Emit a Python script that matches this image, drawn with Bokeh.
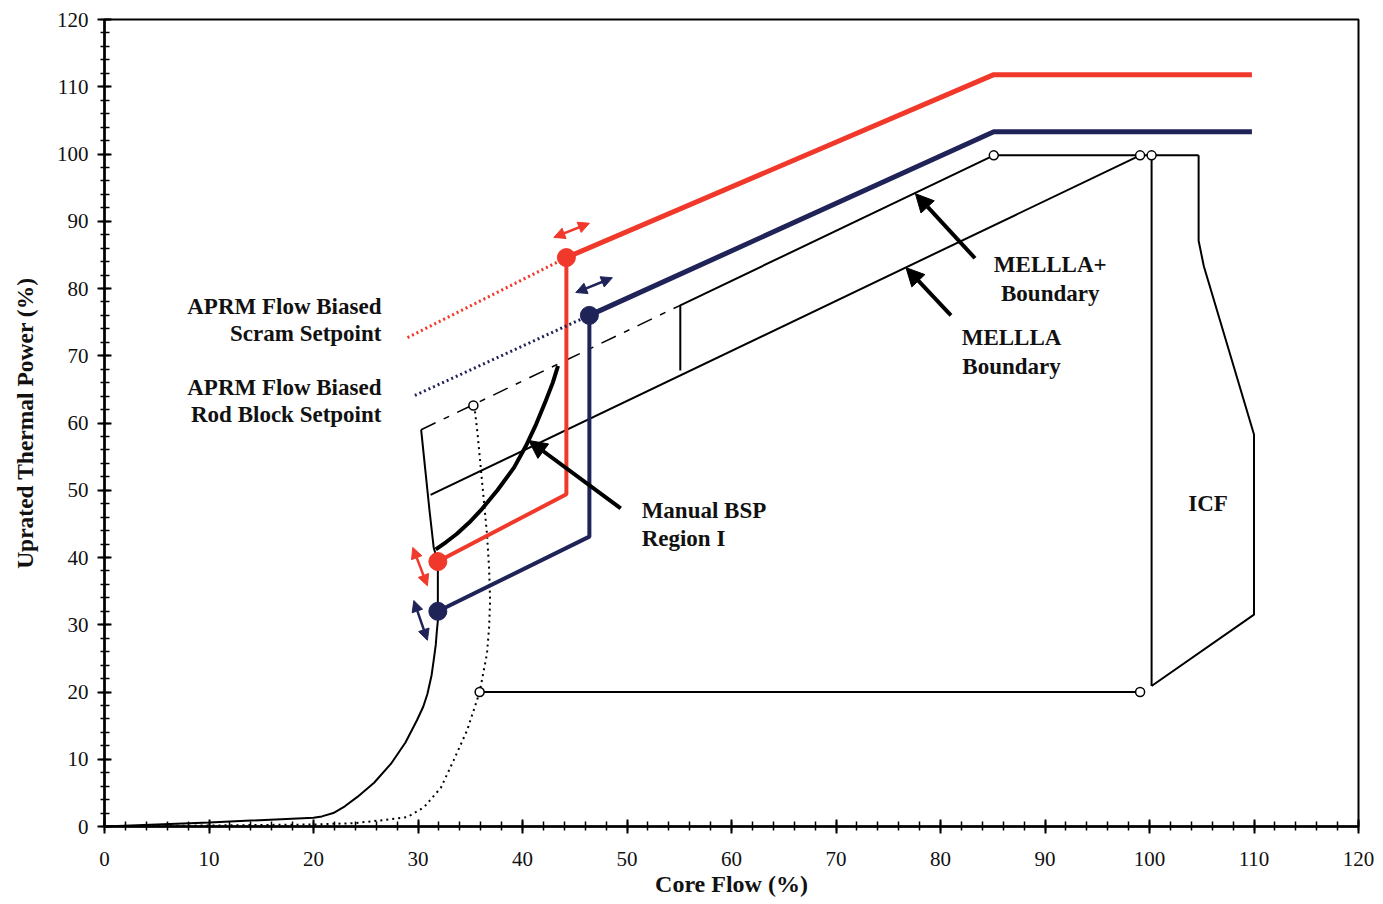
from bokeh.plotting import figure
from bokeh.models import Range1d, SingleIntervalTicker, Arrow, NormalHead, Label
from bokeh.embed import file_html
from bokeh.resources import INLINE

# ---------------- data ----------------
# APRM flow biased scram setpoint (red)
scram_x = [44.2, 85.1, 109.8]
scram_y = [84.6, 111.8, 111.8]
scram_dot_x = [29.0, 44.2]
scram_dot_y = [72.7, 84.6]
scram_low_x = [31.9, 44.2, 44.2]
scram_low_y = [39.4, 49.4, 84.6]
scram_pts_x = [44.2, 31.9]
scram_pts_y = [84.6, 39.4]

# APRM flow biased rod block setpoint (navy)
rb_x = [46.4, 85.1, 109.8]
rb_y = [76.0, 103.3, 103.3]
rb_dot_x = [29.7, 46.4]
rb_dot_y = [64.1, 76.0]
rb_low_x = [31.9, 46.4, 46.4]
rb_low_y = [32.0, 43.1, 76.0]
rb_pts_x = [46.4, 31.9]
rb_pts_y = [76.0, 32.0]

# Natural circulation line (solid thin)
nc_x = [0, 10, 20.0, 20.8, 21.9, 23.0, 24.2, 25.8, 27.4, 28.8, 29.9, 30.5, 30.9, 31.3, 31.5,
        31.7, 31.8, 31.9, 31.9, 31.5, 31.1, 30.7, 30.3]
nc_y = [0, 0.6, 1.3, 1.5, 2.0, 3.0, 4.4, 6.5, 9.3, 12.5, 15.8, 17.8, 19.7, 22.5, 24.7,
        27.0, 29.0, 30.6, 39.4, 41.5, 47.0, 53.0, 59.0]

# Minimum pump speed line (dotted thin)
mps_x = [0, 20.0, 23.9, 26.4, 29.0, 30.6, 32.2, 33.4, 34.7, 35.9, 36.6, 36.8, 36.9,
         36.8, 36.6, 36.3, 36.0, 35.7, 35.4]
mps_y = [0, 0.3, 0.5, 0.9, 1.4, 2.9, 5.8, 9.8, 14.3, 20.0, 25.7, 29.5, 33.6,
         38.5, 43.5, 48.5, 53.4, 58.4, 62.5]

# MELLLA+ boundary
mplus_dash_x = [30.3, 55.1]
mplus_dash_y = [59.0, 77.5]
mplus_x = [55.1, 55.1, 85.1, 104.7]
mplus_y = [67.8, 77.5, 99.8, 99.8]

# MELLLA boundary
mellla_x = [31.2, 99.1]
mellla_y = [49.3, 99.8]

# ICF region and 100% rod line
icf_x = [104.7, 104.7, 105.2, 110.0, 110.0, 100.2]
icf_y = [99.8, 87.1, 83.3, 58.3, 31.5, 20.9]
rod100_x = [100.2, 100.2]
rod100_y = [99.8, 20.9]
low_x = [35.9, 99.1]
low_y = [20.0, 20.0]

# state points (open circles)
open_x = [35.3, 85.1, 99.1, 100.2, 99.1, 35.9]
open_y = [62.6, 99.8, 99.8, 99.8, 20.0, 20.0]

# Manual BSP region I boundary
bsp_x = [31.7, 32.7, 33.7, 34.9, 36.0, 37.6, 39.2, 40.3, 41.3, 42.2, 42.9, 43.4]
bsp_y = [41.2, 42.3, 43.5, 45.2, 47.0, 50.0, 53.4, 56.5, 59.8, 63.2, 66.0, 68.5]

# annotation arrows (start -> tip)
arrow_xs = [49.4, 83.3, 81.0]
arrow_ys = [47.3, 84.5, 76.0]
arrow_xe = [40.6, 77.6, 76.7]
arrow_ye = [57.4, 94.1, 83.1]

# double-headed arrows
dbl_red_x0 = [43.0, 29.5]
dbl_red_y0 = [87.6, 41.5]
dbl_red_x1 = [46.4, 30.9]
dbl_red_y1 = [89.7, 35.8]
dbl_blue_x0 = [45.1, 29.6]
dbl_blue_y0 = [79.4, 33.6]
dbl_blue_x1 = [48.6, 30.9]
dbl_blue_y1 = [81.6, 27.7]

# texts
label_texts = ["APRM Flow Biased", "Scram Setpoint", "APRM Flow Biased", "Rod Block Setpoint"]
label_y = [77.3, 73.3, 65.3, 61.3]

RED = "#F0392B"
NAVY = "#1F2358"
FONT = "Liberation Serif"

p = figure(width=1383, height=904, output_backend="svg", toolbar_location=None,
           x_range=Range1d(0, 120), y_range=Range1d(0, 120),
           min_border_left=104, min_border_right=25, min_border_top=19, min_border_bottom=78)
p.background_fill_color = "white"
p.border_fill_color = "white"
p.outline_line_color = "black"
p.outline_line_width = 2
p.xgrid.visible = False
p.ygrid.visible = False

for ax in (p.xaxis, p.yaxis):
    ax.ticker = SingleIntervalTicker(interval=10, num_minor_ticks=5)
    ax.axis_line_width = 2.5
    ax.axis_line_color = "black"
    ax.major_tick_in = 7
    ax.major_tick_out = 7
    ax.minor_tick_in = 5
    ax.minor_tick_out = 4
    ax.major_tick_line_width = 2
    ax.minor_tick_line_width = 1.5
    ax.major_tick_line_color = "black"
    ax.minor_tick_line_color = "black"
    ax.major_label_text_font = FONT
    ax.major_label_text_font_size = "21px"
    ax.major_label_text_color = "#111111"
    ax.axis_label_text_font = FONT
    ax.axis_label_text_font_style = "bold"
    ax.axis_label_text_color = "#111111"

p.xaxis.axis_label = "Core Flow (%)"
p.yaxis.axis_label = "Uprated Thermal Power (%)"
p.xaxis.axis_label_text_font_size = "24px"
p.yaxis.axis_label_text_font_size = "23.5px"
p.xaxis.major_label_standoff = 18
p.yaxis.major_label_standoff = 9
p.xaxis.axis_label_standoff = 2
p.yaxis.axis_label_standoff = 16

# thin black boundary lines
p.line(nc_x, nc_y, line_color="black", line_width=2)
p.line(mps_x, mps_y, line_color="black", line_width=2, line_dash="2 4")
p.line(mplus_dash_x, mplus_dash_y, line_color="black", line_width=1.5, line_dash="16 9 6 9")
p.line(mplus_x, mplus_y, line_color="black", line_width=2)
p.line(mellla_x, mellla_y, line_color="black", line_width=2)
p.line(icf_x, icf_y, line_color="black", line_width=2)
p.line(rod100_x, rod100_y, line_color="black", line_width=2)
p.line(low_x, low_y, line_color="black", line_width=2)

# Manual BSP curve
p.line(bsp_x, bsp_y, line_color="black", line_width=4, line_join="round")

# red scram setpoint
p.line(scram_dot_x, scram_dot_y, line_color=RED, line_width=3, line_dash="2 3")
p.line(scram_x, scram_y, line_color=RED, line_width=5)
p.line(scram_low_x, scram_low_y, line_color=RED, line_width=4)
# navy rod block
p.line(rb_dot_x, rb_dot_y, line_color=NAVY, line_width=3, line_dash="2 3")
p.line(rb_x, rb_y, line_color=NAVY, line_width=5)
p.line(rb_low_x, rb_low_y, line_color=NAVY, line_width=4)

p.scatter(scram_pts_x, scram_pts_y, size=18, fill_color=RED, line_color=RED)
p.scatter(rb_pts_x, rb_pts_y, size=18, fill_color=NAVY, line_color=NAVY)
p.scatter(open_x, open_y, size=9, fill_color="white", line_color="black", line_width=1.5)

# black pointer arrows
for xs, ys, xe, ye in zip(arrow_xs, arrow_ys, arrow_xe, arrow_ye):
    p.add_layout(Arrow(end=NormalHead(size=18, fill_color="black", line_color="black"),
                       x_start=xs, y_start=ys, x_end=xe, y_end=ye,
                       line_color="black", line_width=4))

# double-headed arrows
for x0, y0, x1, y1 in zip(dbl_red_x0, dbl_red_y0, dbl_red_x1, dbl_red_y1):
    p.add_layout(Arrow(start=NormalHead(size=11, fill_color=RED, line_color=RED),
                       end=NormalHead(size=11, fill_color=RED, line_color=RED),
                       x_start=x0, y_start=y0, x_end=x1, y_end=y1,
                       line_color=RED, line_width=2.5))
for x0, y0, x1, y1 in zip(dbl_blue_x0, dbl_blue_y0, dbl_blue_x1, dbl_blue_y1):
    p.add_layout(Arrow(start=NormalHead(size=11, fill_color=NAVY, line_color=NAVY),
                       end=NormalHead(size=11, fill_color=NAVY, line_color=NAVY),
                       x_start=x0, y_start=y0, x_end=x1, y_end=y1,
                       line_color=NAVY, line_width=2.5))

def lab(x, y, t, align="left"):
    p.add_layout(Label(x=x, y=y, text=t, text_font=FONT, text_font_size="23px",
                       text_font_style="bold", text_color="#111111",
                       text_align=align, text_baseline="middle"))

for t, y in zip(label_texts, label_y):
    lab(26.5, y, t, "right")
lab(90.5, 83.6, "MELLLA+", "center")
lab(90.5, 79.3, "Boundary", "center")
lab(86.8, 72.7, "MELLLA", "center")
lab(86.8, 68.4, "Boundary", "center")
lab(51.4, 47.0, "Manual BSP")
lab(51.4, 42.8, "Region I")
lab(105.6, 48.0, "ICF", "center")

open("out.html", "w").write(file_html(p, INLINE))
